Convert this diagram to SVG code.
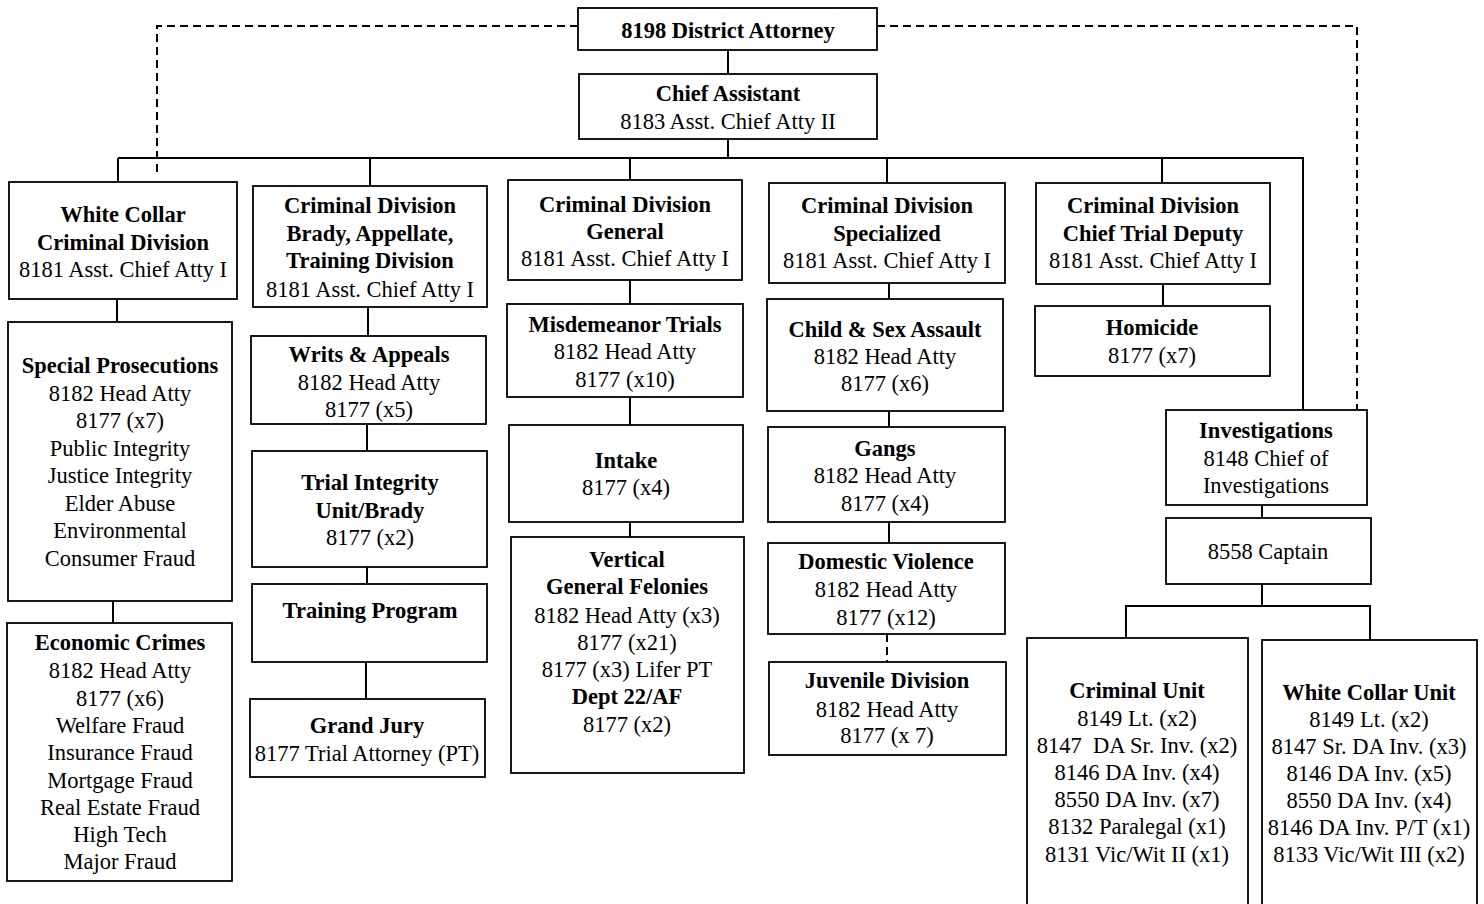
<svg xmlns="http://www.w3.org/2000/svg" width="1484" height="904" viewBox="0 0 1484 904">
<style>
.box{fill:#fff;stroke:#000;stroke-width:1.8}
.t{font-family:"Liberation Serif","Times New Roman",serif;font-size:22.5px;text-anchor:middle;fill:#000}
.b{font-weight:bold}
.c{fill:none;stroke:#000;stroke-width:2}
.d{fill:none;stroke:#000;stroke-width:2;stroke-dasharray:8,5}
</style>
<rect width="1484" height="904" fill="#fff"/>
<g id="connectors">
<path class="c" d="M728,50V74M728,139V158M118,158H1303V410"/>
<path class="c" d="M118,158V182M370,158V186M630,158V180M887,158V183M1162,158V183"/>
<path class="c" d="M117,299V322M113,601V623"/>
<path class="c" d="M368,307V336M367,424V451M367,567V584M366,662V699"/>
<path class="c" d="M630,280V304M630,397V425M630,522V537"/>
<path class="c" d="M889,283V299M889,411V427M889,522V543"/>
<path class="d" d="M887,634V662"/>
<path class="c" d="M1163,284V306"/>
<path class="c" d="M1262,505V518M1262,584V606M1126,638V606H1370V640"/>
<path class="d" d="M578,26H157V177M877,26H1357V410"/>
</g>
<g id="da"><rect class="box" x="578" y="8" width="299" height="42"/><text class="t b" x="728" y="38">8198 District Attorney</text></g>
<g id="ca"><rect class="box" x="579" y="74" width="298" height="65"/><text class="t b" x="728" y="101">Chief Assistant</text><text class="t" x="728" y="129">8183 Asst. Chief Atty II</text></g>
<g id="wc"><rect class="box" x="9" y="182" width="228" height="117"/><text class="t b" x="123" y="222">White Collar</text><text class="t b" x="123" y="250">Criminal Division</text><text class="t" x="123" y="277">8181 Asst. Chief Atty I</text></g>
<g id="brady"><rect class="box" x="253" y="186" width="234" height="121"/><text class="t b" x="370" y="213">Criminal Division</text><text class="t b" x="370" y="241">Brady, Appellate,</text><text class="t b" x="370" y="268">Training Division</text><text class="t" x="370" y="297">8181 Asst. Chief Atty I</text></g>
<g id="general"><rect class="box" x="508" y="180" width="234" height="100"/><text class="t b" x="625" y="212">Criminal Division</text><text class="t b" x="625" y="239">General</text><text class="t" x="625" y="266">8181 Asst. Chief Atty I</text></g>
<g id="specialized"><rect class="box" x="769" y="183" width="236" height="100"/><text class="t b" x="887" y="213">Criminal Division</text><text class="t b" x="887" y="241">Specialized</text><text class="t" x="887" y="268">8181 Asst. Chief Atty I</text></g>
<g id="ctd"><rect class="box" x="1036" y="183" width="234" height="101"/><text class="t b" x="1153" y="213">Criminal Division</text><text class="t b" x="1153" y="241">Chief Trial Deputy</text><text class="t" x="1153" y="268">8181 Asst. Chief Atty I</text></g>
<g id="specialpros"><rect class="box" x="8" y="322" width="224" height="279"/><text class="t b" x="120" y="373">Special Prosecutions</text><text class="t" x="120" y="401">8182 Head Atty</text><text class="t" x="120" y="428">8177 (x7)</text><text class="t" x="120" y="456">Public Integrity</text><text class="t" x="120" y="483">Justice Integrity</text><text class="t" x="120" y="511">Elder Abuse</text><text class="t" x="120" y="538">Environmental</text><text class="t" x="120" y="566">Consumer Fraud</text></g>
<g id="economic"><rect class="box" x="7" y="623" width="225" height="258"/><text class="t b" x="120" y="650">Economic Crimes</text><text class="t" x="120" y="678">8182 Head Atty</text><text class="t" x="120" y="706">8177 (x6)</text><text class="t" x="120" y="733">Welfare Fraud</text><text class="t" x="120" y="760">Insurance Fraud</text><text class="t" x="120" y="788">Mortgage Fraud</text><text class="t" x="120" y="815">Real Estate Fraud</text><text class="t" x="120" y="842">High Tech</text><text class="t" x="120" y="869">Major Fraud</text></g>
<g id="writs"><rect class="box" x="251" y="336" width="235" height="88"/><text class="t b" x="369" y="362">Writs &amp; Appeals</text><text class="t" x="369" y="390">8182 Head Atty</text><text class="t" x="369" y="417">8177 (x5)</text></g>
<g id="trialintegrity"><rect class="box" x="252" y="451" width="235" height="116"/><text class="t b" x="370" y="490">Trial Integrity</text><text class="t b" x="370" y="518">Unit/Brady</text><text class="t" x="370" y="545">8177 (x2)</text></g>
<g id="training"><rect class="box" x="252" y="584" width="235" height="78"/><text class="t b" x="370" y="618">Training Program</text></g>
<g id="grandjury"><rect class="box" x="250" y="699" width="235" height="78"/><text class="t b" x="367" y="733">Grand Jury</text><text class="t" x="367" y="761">8177 Trial Attorney (PT)</text></g>
<g id="misdemeanor"><rect class="box" x="507" y="304" width="236" height="93"/><text class="t b" x="625" y="332">Misdemeanor Trials</text><text class="t" x="625" y="359">8182 Head Atty</text><text class="t" x="625" y="387">8177 (x10)</text></g>
<g id="intake"><rect class="box" x="509" y="425" width="234" height="97"/><text class="t b" x="626" y="468">Intake</text><text class="t" x="626" y="495">8177 (x4)</text></g>
<g id="vertical"><rect class="box" x="511" y="537" width="233" height="236"/><text class="t b" x="627" y="567">Vertical</text><text class="t b" x="627" y="594">General Felonies</text><text class="t" x="627" y="623">8182 Head Atty (x3)</text><text class="t" x="627" y="650">8177 (x21)</text><text class="t" x="627" y="677">8177 (x3) Lifer PT</text><text class="t b" x="627" y="704">Dept 22/AF</text><text class="t" x="627" y="732">8177 (x2)</text></g>
<g id="childsex"><rect class="box" x="767" y="299" width="236" height="112"/><text class="t b" x="885" y="337">Child &amp; Sex Assault</text><text class="t" x="885" y="364">8182 Head Atty</text><text class="t" x="885" y="391">8177 (x6)</text></g>
<g id="gangs"><rect class="box" x="768" y="427" width="237" height="95"/><text class="t b" x="885" y="456">Gangs</text><text class="t" x="885" y="483">8182 Head Atty</text><text class="t" x="885" y="511">8177 (x4)</text></g>
<g id="dv"><rect class="box" x="768" y="543" width="237" height="91"/><text class="t b" x="886" y="569">Domestic Violence</text><text class="t" x="886" y="597">8182 Head Atty</text><text class="t" x="886" y="625">8177 (x12)</text></g>
<g id="juvenile"><rect class="box" x="769" y="662" width="237" height="93"/><text class="t b" x="887" y="688">Juvenile Division</text><text class="t" x="887" y="717">8182 Head Atty</text><text class="t" x="887" y="743">8177 (x 7)</text></g>
<g id="homicide"><rect class="box" x="1035" y="306" width="235" height="70"/><text class="t b" x="1152" y="335">Homicide</text><text class="t" x="1152" y="363">8177 (x7)</text></g>
<g id="investigations"><rect class="box" x="1166" y="410" width="201" height="95"/><text class="t b" x="1266" y="438">Investigations</text><text class="t" x="1266" y="466">8148 Chief of</text><text class="t" x="1266" y="493">Investigations</text></g>
<g id="captain"><rect class="box" x="1166" y="518" width="205" height="66"/><text class="t" x="1268" y="559">8558 Captain</text></g>
<g id="criminalunit"><rect class="box" x="1027" y="638" width="221" height="280"/><text class="t b" x="1137" y="698">Criminal Unit</text><text class="t" x="1137" y="726">8149 Lt. (x2)</text><text class="t" x="1137" y="753" xml:space="preserve">8147  DA Sr. Inv. (x2)</text><text class="t" x="1137" y="780">8146 DA Inv. (x4)</text><text class="t" x="1137" y="807">8550 DA Inv. (x7)</text><text class="t" x="1137" y="834">8132 Paralegal (x1)</text><text class="t" x="1137" y="862">8131 Vic/Wit II (x1)</text></g>
<g id="whitecollarunit"><rect class="box" x="1262" y="640" width="215" height="280"/><text class="t b" x="1369" y="700">White Collar Unit</text><text class="t" x="1369" y="727">8149 Lt. (x2)</text><text class="t" x="1369" y="754">8147 Sr. DA Inv. (x3)</text><text class="t" x="1369" y="781">8146 DA Inv. (x5)</text><text class="t" x="1369" y="808">8550 DA Inv. (x4)</text><text class="t" x="1369" y="835">8146 DA Inv. P/T (x1)</text><text class="t" x="1369" y="862">8133 Vic/Wit III (x2)</text></g>
</svg>
